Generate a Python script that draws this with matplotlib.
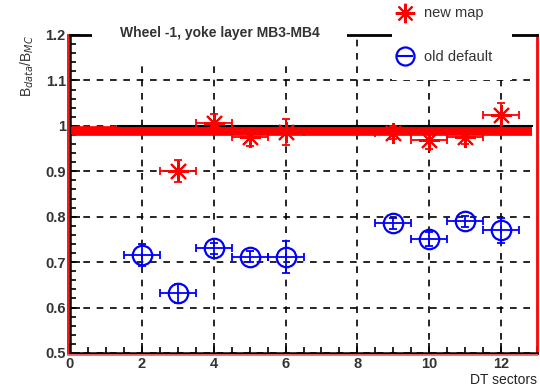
import matplotlib
matplotlib.use("Agg")
import matplotlib.pyplot as plt
from matplotlib.patches import Rectangle
from matplotlib.lines import Line2D
from matplotlib.ticker import MultipleLocator

plt.rcParams['font.family'] = ['Liberation Sans', 'DejaVu Sans']

# DT sector ratios, data / MC
sectors_new = [3, 4, 5, 6, 9, 10, 11, 12]
ratio_new = [0.900, 1.006, 0.976, 0.986, 0.985, 0.969, 0.976, 1.023]
err_new = [0.024, 0.020, 0.020, 0.028, 0.015, 0.020, 0.015, 0.027]

sectors_old = [2, 3, 4, 5, 6, 9, 10, 11, 12]
ratio_old = [0.716, 0.631, 0.731, 0.712, 0.712, 0.786, 0.751, 0.790, 0.770]
err_old = [0.024, 0.020, 0.012, 0.012, 0.035, 0.012, 0.015, 0.012, 0.027]

sector_halfwidth = 0.5
fit_new = 0.988   # constant fit to the new-map points
ref_level = 1.0

title = "Wheel -1, yoke layer MB3-MB4"
xlabel = "DT sectors"
ylabel = r"B$_{data}$/B$_{MC}$"
legend_labels = ["new map", "old default"]

fig = plt.figure(figsize=(5.4, 3.9), dpi=100)
ax = fig.add_axes([70/540, 1 - 353/390, 467/540, (353 - 35)/390])
ax.set_xlim(0, 13)
ax.set_ylim(0.5, 1.2)

ax.xaxis.set_major_locator(MultipleLocator(2))
ax.xaxis.set_minor_locator(MultipleLocator(0.5))
ax.yaxis.set_major_locator(MultipleLocator(0.1))
ax.yaxis.set_minor_locator(MultipleLocator(0.02))
ax.tick_params(which='both', direction='in', top=False, right=False, color='black', width=1.2)
ax.tick_params(which='major', length=7, labelsize=10.5, labelcolor='#333333', pad=3)
ax.tick_params(which='minor', length=4)
ax.set_yticks([0.5, 0.6, 0.7, 0.8, 0.9, 1.0, 1.1, 1.2])
ax.set_yticklabels(['0.5', '0.6', '0.7', '0.8', '0.9', '1', '1.1', '1.2'], fontweight='bold')
ax.set_xticks([0, 2, 4, 6, 8, 10, 12])
ax.set_xticklabels(['0', '2', '4', '6', '8', '10', '12'], fontweight='bold')

ax.grid(True, which='major', color='black', linestyle=(0, (4, 4)), linewidth=1.2)
ax.set_axisbelow(True)

ax.spines['left'].set_color('black')
ax.spines['left'].set_linewidth(1.8)
ax.spines['bottom'].set_color('black')
ax.spines['bottom'].set_linewidth(1.8)
ax.spines['right'].set_color('red')
ax.spines['right'].set_linewidth(2)
ax.spines['top'].set_color('black')
ax.spines['top'].set_linewidth(2)

# thin red edges just outside the left and bottom frame
fig.lines.append(Line2D([68.2/540, 68.2/540], [1 - 354/390, 1 - 35/390],
                        transform=fig.transFigure, color='red', lw=1.3, zorder=1))
fig.lines.append(Line2D([68/540, 537/540], [1 - 354.8/390, 1 - 354.8/390],
                        transform=fig.transFigure, color='#ff6060', lw=1.3, zorder=1))

# fit band and reference line
ax.plot([0.05, 12.85], [fit_new, fit_new], color='red', lw=7, solid_capstyle='butt', zorder=3)
ax.plot([1.35, 12.85], [ref_level, ref_level], color='black', lw=1.5, zorder=3.1)

ax.errorbar(sectors_new, ratio_new, xerr=sector_halfwidth, yerr=err_new,
            fmt='none', ecolor='red', elinewidth=1.3, capsize=3, capthick=1.3, zorder=4)
ax.plot(sectors_new, ratio_new, linestyle='none', marker=(8, 2, 0), markersize=15,
        markeredgecolor='red', markeredgewidth=1.5, color='red', zorder=5)

ax.errorbar(sectors_old, ratio_old, xerr=sector_halfwidth, yerr=err_old,
            fmt='none', ecolor='blue', elinewidth=1.3, capsize=3, capthick=1.3, zorder=4)
ax.plot(sectors_old, ratio_old, linestyle='none', marker='o', markersize=14,
        markerfacecolor='none', markeredgecolor='blue', markeredgewidth=1.6, zorder=5)

# white title and legend panels over the frame
fig.patches.append(Rectangle((92/540, 1 - 62/390), (347 - 92)/540, 62/390,
                             transform=fig.transFigure, facecolor='white',
                             edgecolor='none', zorder=10))
fig.patches.append(Rectangle((392/540, 1 - 80/390), (512 - 392)/540, 80/390,
                             transform=fig.transFigure, facecolor='white',
                             edgecolor='none', zorder=10))

fig.text(220/540, 1 - 33/390, title, ha='center', va='center', fontsize=10,
         fontweight='bold', color='#333333', zorder=11)

leg_ax = fig.add_axes([0, 0, 1, 1], zorder=12)
leg_ax.set_xlim(0, 540)
leg_ax.set_ylim(390, 0)
leg_ax.axis('off')
leg_ax.plot([405], [13], linestyle='none', marker=(8, 2, 0), markersize=14,
            markeredgecolor='red', markeredgewidth=1.5)
leg_ax.plot([405], [56], linestyle='none', marker='o', markersize=13,
            markerfacecolor='none', markeredgecolor='blue', markeredgewidth=1.6)
leg_ax.plot([398, 412], [56, 56], color='blue', lw=1.5)
leg_ax.text(424, 13, legend_labels[0], ha='left', va='center', fontsize=10.5, color='#333333')
leg_ax.text(424, 57, legend_labels[1], ha='left', va='center', fontsize=10.5, color='#333333')

fig.text(537/540, 1 - 380/390, xlabel, ha='right', va='center', fontsize=10,
         color='#222222')
fig.text(27/540, 1 - 66/390, ylabel, ha='center', va='center', rotation=90,
         fontsize=10, color='#333333')

fig.savefig('out.png', dpi=100)
